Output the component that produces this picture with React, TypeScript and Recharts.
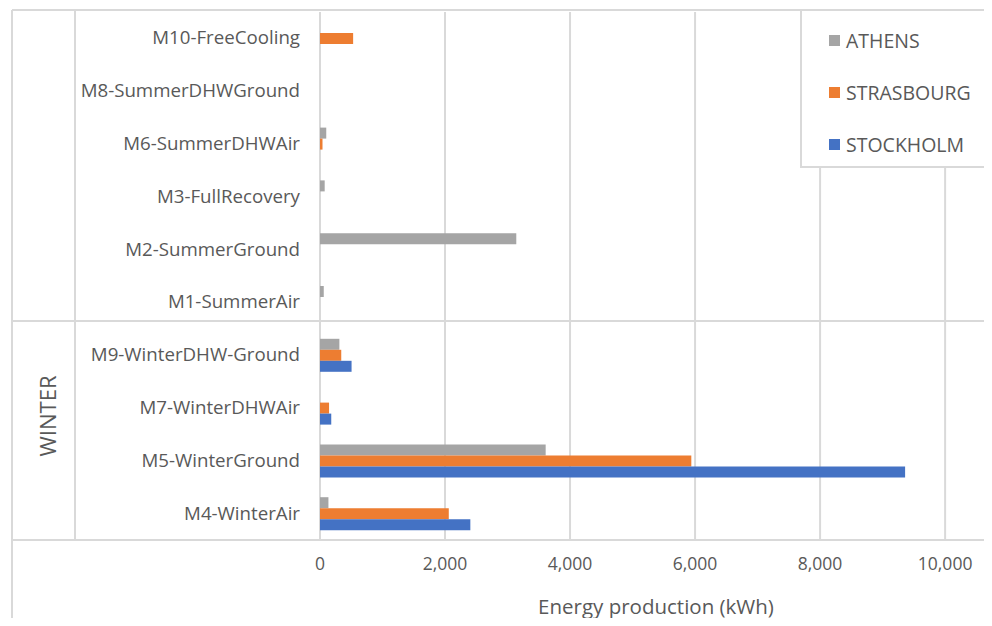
import { BarChart, Bar, XAxis, YAxis, CartesianGrid } from "recharts";

// Operating modes, top to bottom
const modes = [
  "M10-FreeCooling",
  "M8-SummerDHWGround",
  "M6-SummerDHWAir",
  "M3-FullRecovery",
  "M2-SummerGround",
  "M1-SummerAir",
  "M9-WinterDHW-Ground",
  "M7-WinterDHWAir",
  "M5-WinterGround",
  "M4-WinterAir",
];

// Energy production per city (kWh)
const athens = [0, 0, 100, 75, 3140, 60, 310, 0, 3610, 135];
const strasbourg = [530, 0, 40, 0, 0, 0, 340, 145, 5940, 2060];
const stockholm = [0, 0, 0, 0, 0, 0, 505, 180, 9360, 2405];

const xTicks = [0, 2000, 4000, 6000, 8000, 10000];

const series = [
  { key: "ATHENS", color: "#A5A5A5" },
  { key: "STRASBOURG", color: "#ED7D31" },
  { key: "STOCKHOLM", color: "#4472C4" },
];

const data = modes.map((m, i) => ({
  mode: m,
  ATHENS: athens[i],
  STRASBOURG: strasbourg[i],
  STOCKHOLM: stockholm[i],
}));

const FONT = "'Open Sans', sans-serif";
const TEXT = "#595959";
const LINE = "#D9D9D9";

const ModeTick = (props: any) => {
  const { x, y, payload } = props;
  return (
    <text x={x - 12} y={y} dy={6} textAnchor="end" fill={TEXT} fontSize={18.7} fontFamily={FONT}>
      {payload.value}
    </text>
  );
};

// legend box sits on top of the gridlines, open on the right
const LegendBox = () => (
  <div
    style={{
      position: "absolute",
      left: 800,
      top: 9,
      width: 200,
      height: 159,
      border: `2px solid ${LINE}`,
      borderRight: "none",
      background: "#fff",
      boxSizing: "border-box",
      paddingTop: 3,
      paddingLeft: 27,
      fontFamily: FONT,
      fontSize: 19.5,
      color: TEXT,
    }}
  >
    {series.map((s) => (
      <div key={s.key} style={{ display: "flex", alignItems: "center", height: 52 }}>
        <span style={{ width: 11, height: 11, background: s.color, marginRight: 6 }} />
        {s.key}
      </div>
    ))}
  </div>
);

export default function App() {
  return (
    <div style={{ position: "relative", width: 992, height: 626, margin: -8, background: "#fff", overflow: "hidden" }}>
      {/* table frame and season label */}
      <svg width={992} height={626} style={{ position: "absolute", left: 0, top: 0 }}>
        <g stroke={LINE} strokeWidth={2}>
          <line x1={12} y1={10} x2={992} y2={10} />
          <line x1={12} y1={10} x2={12} y2={626} />
          <line x1={75} y1={10} x2={75} y2={540} />
          <line x1={12} y1={321} x2={992} y2={321} />
          <line x1={12} y1={540} x2={992} y2={540} />
        </g>
        <text
          x={47}
          y={416}
          transform="rotate(-90 47 416)"
          textAnchor="middle"
          dominantBaseline="central"
          fill={TEXT}
          fontSize={22}
          fontFamily={FONT}
        >
          WINTER
        </text>
      </svg>
      <div style={{ position: "absolute", left: 0, top: 0 }}>
        <BarChart
          width={992}
          height={626}
          data={data}
          layout="vertical"
          margin={{ top: 12, right: 0, bottom: 0, left: 12 }}
          barSize={11}
          barGap={0}
        >
          <CartesianGrid horizontal={false} stroke={LINE} strokeWidth={2} />
          <XAxis
            type="number"
            domain={[0, 10750]}
            ticks={xTicks}
            allowDataOverflow
            height={86}
            axisLine={false}
            tickLine={false}
            tickMargin={12}
            tick={{ fill: TEXT, fontSize: 17.5, fontFamily: FONT }}
            tickFormatter={(v: number) => v.toLocaleString("en-US")}
            label={{
              value: "Energy production (kWh)",
              position: "insideBottom",
              offset: 12,
              fill: TEXT,
              fontSize: 20.5,
              fontFamily: FONT,
            }}
          />
          <YAxis
            type="category"
            dataKey="mode"
            width={308}
            axisLine={false}
            tickLine={false}
            tick={<ModeTick />}
            interval={0}
          />
          {series.map((s) => (
            <Bar key={s.key} dataKey={s.key} fill={s.color} isAnimationActive={false} />
          ))}
        </BarChart>
      </div>
      <LegendBox />
    </div>
  );
}
